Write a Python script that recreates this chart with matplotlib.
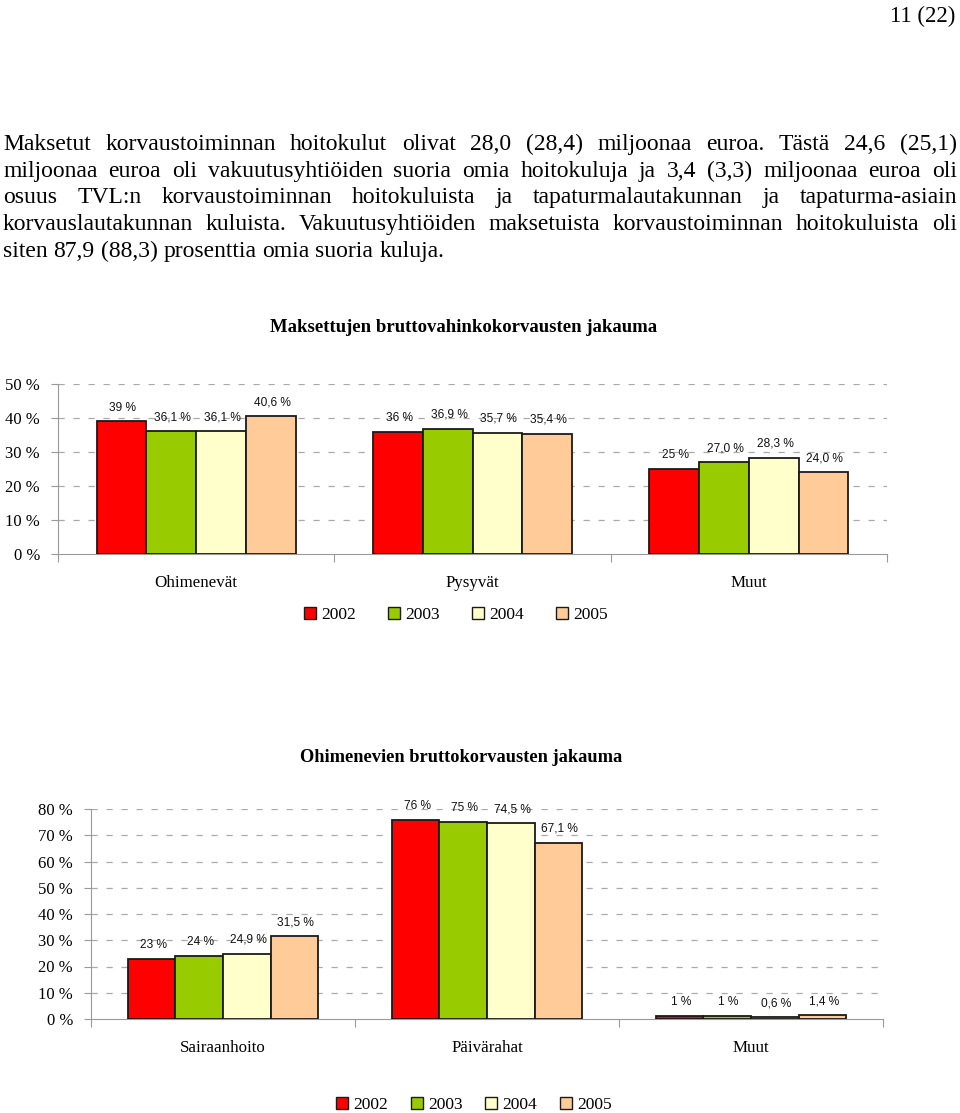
import matplotlib
matplotlib.use("Agg")
import matplotlib.pyplot as plt
from matplotlib.patches import Patch
import numpy as np

# =============================================================================
# Data
# =============================================================================
years = ["2002", "2003", "2004", "2005"]
colors = ["#FF0000", "#99CC00", "#FFFFCC", "#FFCC99"]

cats1 = ["Ohimenevät", "Pysyvät", "Muut"]
vals1 = [
    [39.0, 36.1, 36.1, 40.6],
    [36.0, 36.9, 35.7, 35.4],
    [25.0, 27.0, 28.3, 24.0],
]
labels1 = [
    ["39 %", "36,1 %", "36,1 %", "40,6 %"],
    ["36 %", "36,9 %", "35,7 %", "35,4 %"],
    ["25 %", "27,0 %", "28,3 %", "24,0 %"],
]

cats2 = ["Sairaanhoito", "Päivärahat", "Muut"]
vals2 = [
    [23.0, 24.0, 24.9, 31.5],
    [76.0, 75.0, 74.5, 67.1],
    [1.0, 1.0, 0.6, 1.4],
]
labels2 = [
    ["23 %", "24 %", "24,9 %", "31,5 %"],
    ["76 %", "75 %", "74,5 %", "67,1 %"],
    ["1 %", "1 %", "0,6 %", "1,4 %"],
]

title1 = "Maksettujen bruttovahinkokorvausten jakauma"
title2 = "Ohimenevien bruttokorvausten jakauma"

paragraph = [
    "Maksetut korvaustoiminnan hoitokulut olivat 28,0 (28,4) miljoonaa euroa. Tästä 24,6 (25,1)",
    "miljoonaa euroa oli vakuutusyhtiöiden suoria omia hoitokuluja ja 3,4 (3,3) miljoonaa euroa oli",
    "osuus TVL:n korvaustoiminnan hoitokuluista ja tapaturmalautakunnan ja tapaturma-asiain",
    "korvauslautakunnan kuluista. Vakuutusyhtiöiden maksetuista korvaustoiminnan hoitokuluista oli",
    "siten 87,9 (88,3) prosenttia omia suoria kuluja.",
]
page_no = "11 (22)"

# =============================================================================
# Figure setup (pixel helpers)
# =============================================================================
W, H = 960, 1113
fig = plt.figure(figsize=(W / 100, H / 100), dpi=100)
SERIF = "Liberation Serif"
SANS = "Liberation Sans"


def px_axes(left, top, right, bottom):
    return fig.add_axes([left / W, 1 - bottom / H, (right - left) / W, (bottom - top) / H])


def bar_chart(ax, cats, vals, labels, ymax):
    n = len(years)
    bw = 0.18
    x = np.arange(len(cats))
    for j in range(n):
        v = [row[j] for row in vals]
        pos = x + (j - (n - 1) / 2) * bw
        ax.bar(pos, v, bw, color=colors[j], edgecolor="#1a1a1a", linewidth=1.3,
               label=years[j], zorder=3)
        for p, val, row in zip(pos, v, labels):
            ax.annotate(row[j], (p, val), xytext=(1, 10), textcoords="offset points",
                        ha="center", va="center", fontsize=8.6, family=SANS,
                        color="#111111", zorder=4)
    ax.set_xlim(-0.5, len(cats) - 0.5)
    ax.set_ylim(0, ymax)
    ax.set_yticks(np.arange(0, ymax + 1, 10))
    ax.set_yticklabels([f"{t} %" for t in range(0, ymax + 1, 10)],
                       family=SERIF, fontsize=12)
    ax.tick_params(axis="y", length=5, color="#999999", pad=8)
    ax.set_xticks(np.arange(-0.5, len(cats)), labels=[])
    ax.set_xticks(x, labels=cats, minor=True)
    ax.tick_params(axis="x", which="major", length=6, color="#999999", direction="out")
    ax.tick_params(axis="x", which="minor", length=0, pad=15)
    for t in ax.get_xticklabels(minor=True):
        t.set_family(SERIF)
        t.set_fontsize(12.2)
    for y in range(10, ymax + 1, 10):
        ax.axhline(y, color="#aaaaaa", linewidth=0.9, dashes=(5, 7), zorder=1)
    for s in ["top", "right"]:
        ax.spines[s].set_visible(False)
    ax.spines["left"].set_color("#999999")
    ax.spines["bottom"].set_color("#999999")


# =============================================================================
# Chart 1
# =============================================================================
ax1 = px_axes(58, 384, 887, 554)
bar_chart(ax1, cats1, vals1, labels1, 50)
fig.text(464 / W, 1 - 332 / H, title1, ha="center", va="baseline",
         family=SERIF, fontweight="bold", fontsize=13.5)
h1 = [Patch(facecolor=c, edgecolor="#1a1a1a", linewidth=1) for c in colors]
fig.legend(h1, years, loc="center", bbox_to_anchor=(456 / W, 1 - 615 / H),
           ncol=4, frameon=False, handlelength=0.7, handleheight=0.7,
           handletextpad=0.3, columnspacing=1.85, prop={"family": SERIF, "size": 12.5})

# =============================================================================
# Chart 2
# =============================================================================
ax2 = px_axes(91, 809, 883, 1019)
bar_chart(ax2, cats2, vals2, labels2, 80)
fig.text(461 / W, 1 - 762 / H, title2, ha="center", va="baseline",
         family=SERIF, fontweight="bold", fontsize=13.2)
fig.legend(h1, years, loc="center", bbox_to_anchor=(474 / W, 1 - 1105 / H),
           ncol=4, frameon=False, handlelength=0.7, handleheight=0.7,
           handletextpad=0.3, columnspacing=1.3, prop={"family": SERIF, "size": 12.5})

# =============================================================================
# Page text (justified paragraph)
# =============================================================================
fig.text(955 / W, 1 - 22 / H, page_no, ha="right", va="baseline",
         family=SERIF, fontsize=16.5)

renderer = fig.canvas.get_renderer()
x0, x1 = 3, 957
base0, step = 150, 26.7
for i, line in enumerate(paragraph):
    words = line.split(" ")
    y = 1 - (base0 + i * step) / H
    texts = [fig.text(0, y, w, ha="left", va="baseline", family=SERIF, fontsize=17)
             for w in words]
    widths = [t.get_window_extent(renderer).width for t in texts]
    if i == len(paragraph) - 1:
        gap = 17 * 0.25 * 100 / 72
    else:
        gap = (x1 - x0 - sum(widths)) / (len(words) - 1)
    x = x0
    for t, w in zip(texts, widths):
        t.set_x(x / W)
        x += w + gap

fig.savefig("out.png", dpi=100)
